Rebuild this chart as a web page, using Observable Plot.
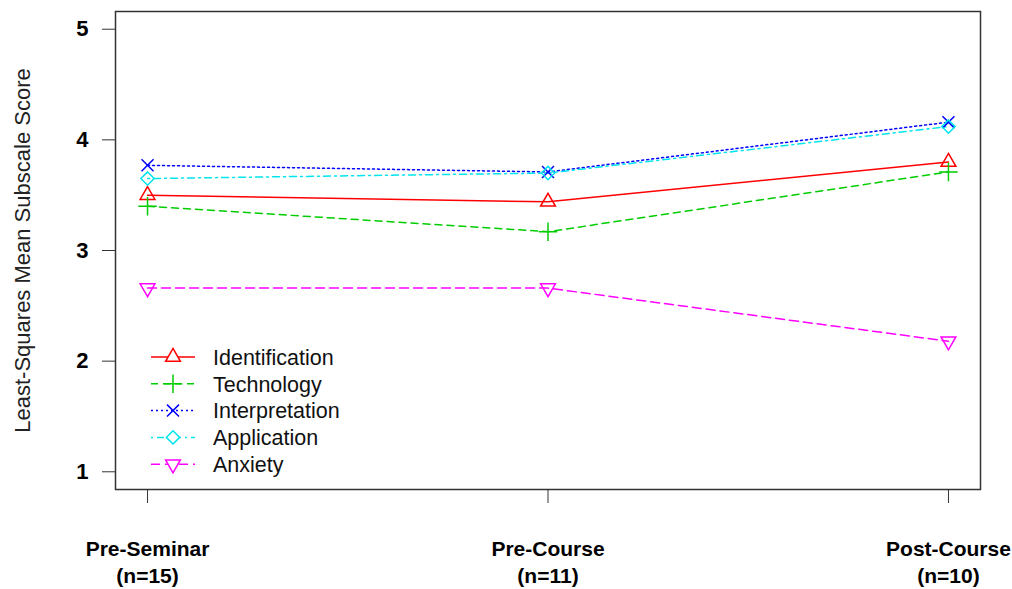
<!DOCTYPE html>
<html><head><meta charset="utf-8">
<script src="https://cdn.jsdelivr.net/npm/d3@7"></script>
<script src="https://cdn.jsdelivr.net/npm/@observablehq/plot@0.6"></script>
<style>
body{margin:0;background:#fff}
#wrap{position:relative;width:1012px;height:589px}
#legend{position:absolute;left:0;top:0;pointer-events:none}
</style>
</head><body><div id="wrap"></div>
<script>
// ---- data ----
const periods = ["Pre-Seminar", "Pre-Course", "Post-Course"];
const periodN = ["(n=15)", "(n=11)", "(n=10)"];
const series = ["Identification", "Technology", "Interpretation", "Application", "Anxiety"];
const identification = [3.50, 3.44, 3.80];
const technology = [3.40, 3.17, 3.71];
const interpretation = [3.77, 3.71, 4.16];
const application = [3.65, 3.70, 4.12];
const anxiety = [2.66, 2.66, 2.18];
const yTicks = [1, 2, 3, 4, 5];
const yTitle = "Least-Squares Mean Subscale Score";

// ---- styles ----
const values = [identification, technology, interpretation, application, anxiety];
const colors = ["#ff0000", "#00cd00", "#0000ff", "#00e5ee", "#ff00ff"];
const dashes = [null, "7,5", "2,3", "2,4,7,4", "9,5"];
const symbols = ["triangle", "plus", "times", "diamond2", "triangle"];
const rotations = [0, 0, 0, 0, 180];
const radii = [5.5, 6, 5.5, 6, 5.5];

const data = series.flatMap((s, i) => values[i].map((v, j) => ({series: s, period: j + 1, value: v})));
const font = "'Liberation Sans', Arial, sans-serif";

const chart = Plot.plot({
  width: 1012, height: 589,
  marginLeft: 115, marginRight: 32, marginTop: 11, marginBottom: 100,
  style: {fontFamily: font, background: "white", color: "#000", overflow: "visible"},
  x: {type: "linear", domain: [0.92, 3.08]},
  y: {domain: [0.84, 5.16]},
  marks: [
    Plot.frame({stroke: "#333", strokeWidth: 1.5}),
    Plot.axisY({ticks: yTicks, tickSize: 13, tickPadding: 14, fontSize: 22, fontWeight: "bold",
                label: null, tickFormat: d => String(d), stroke: "#333"}),
    Plot.axisX({ticks: [1, 2, 3], tickSize: 14, tickPadding: 33, fontSize: 21, fontWeight: "bold",
                label: null, lineHeight: 1.3, stroke: "#333",
                tickFormat: i => periods[i - 1] + "\n" + periodN[i - 1]}),
    Plot.text([yTitle], {frameAnchor: "left", rotate: -90, dx: -93, textAnchor: "middle",
                         fontSize: 22, fill: "#222"}),
    ...series.map((s, i) => Plot.line(data.filter(d => d.series === s), {
      x: "period", y: "value", stroke: colors[i], strokeWidth: 1.5, strokeDasharray: dashes[i]
    })),
    ...series.map((s, i) => Plot.dot(data.filter(d => d.series === s), {
      x: "period", y: "value", symbol: symbols[i], rotate: rotations[i],
      stroke: colors[i], fill: "none", r: radii[i], strokeWidth: 1.5
    }))
  ]
});
const wrap = document.getElementById("wrap");
wrap.appendChild(chart);

// ---- legend overlay ----
const lg = d3.select(wrap).append("svg").attr("id", "legend").attr("width", 1012).attr("height", 589);
const symMap = {triangle: d3.symbolTriangle, plus: d3.symbolPlus, times: d3.symbolTimes, diamond2: d3.symbolDiamond2};
series.forEach((s, i) => {
  const y = 357 + i * 26.8;
  const g = lg.append("g");
  g.append("line").attr("x1", 151).attr("x2", 195).attr("y1", y).attr("y2", y)
    .attr("stroke", colors[i]).attr("stroke-width", 1.5).attr("stroke-dasharray", dashes[i]);
  g.append("path").attr("d", d3.symbol(symMap[symbols[i]], Math.PI * radii[i] * radii[i])())
    .attr("transform", `translate(173,${y}) rotate(${rotations[i]})`)
    .attr("fill", "white").attr("stroke", colors[i]).attr("stroke-width", 1.5);
  g.append("text").attr("x", 213).attr("y", y).attr("dy", "0.36em")
    .attr("font-family", font).attr("font-size", 21.5).attr("fill", "#111").text(s);
});
</script>
</body></html>
